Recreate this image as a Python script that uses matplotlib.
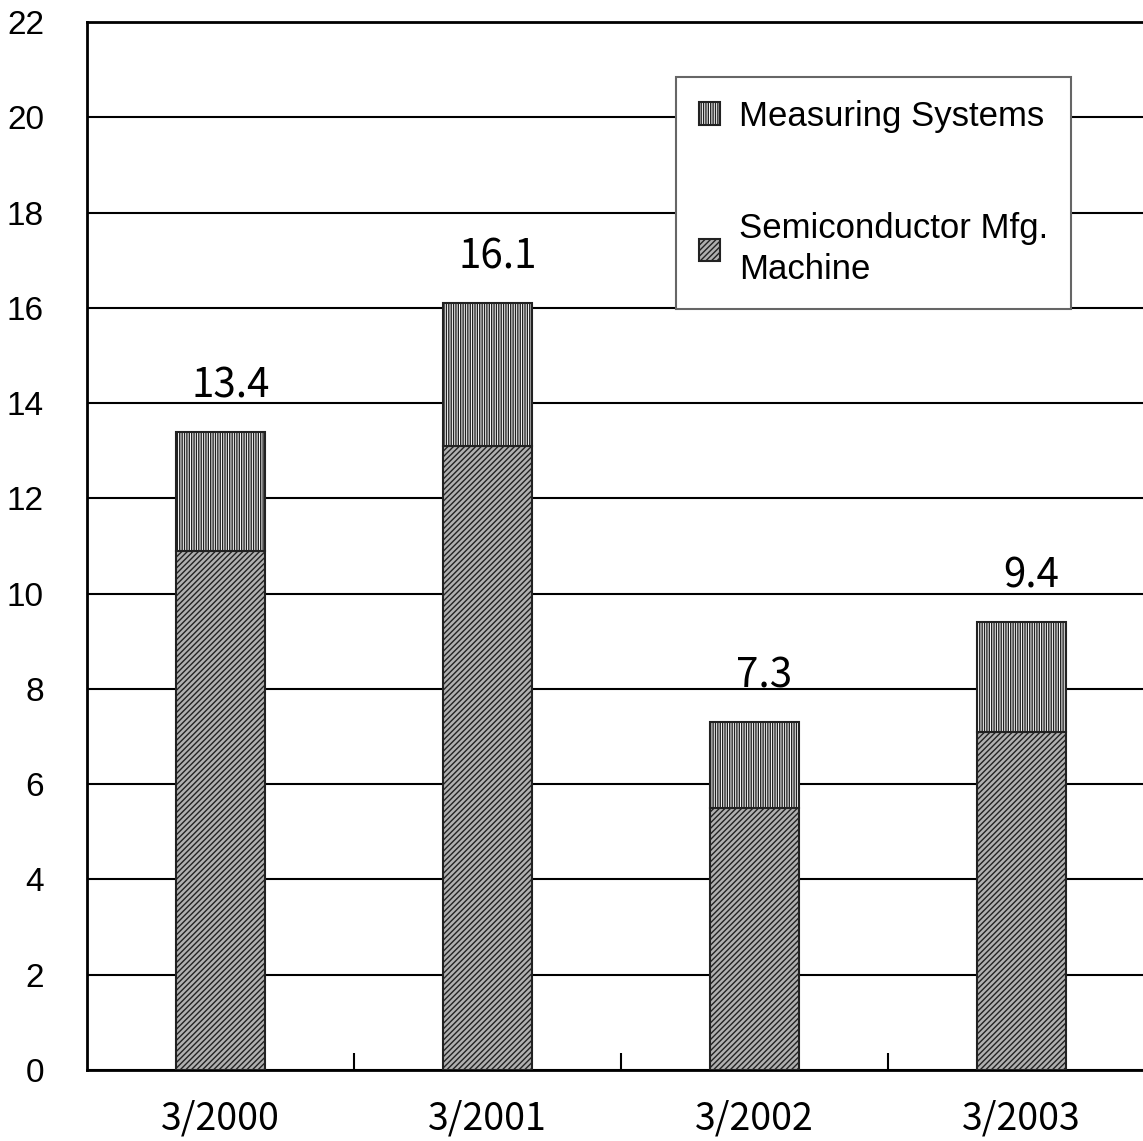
import matplotlib
matplotlib.use("Agg")
import matplotlib.pyplot as plt
import numpy as np

categories = ["3/2000", "3/2001", "3/2002", "3/2003"]
semiconductor = [10.9, 13.1, 5.5, 7.1]
measuring = [2.5, 3.0, 1.8, 2.3]
totals = [13.4, 16.1, 7.3, 9.4]
yticks = list(range(0, 23, 2))

plt.rcParams['hatch.linewidth'] = 1.0
fig = plt.figure(figsize=(11.43, 11.41), dpi=100)
ax = fig.add_axes([87/1143, 1-1070/1141, 1068/1143, 1048/1141])

x = np.arange(len(categories))
w = 0.333
b1 = ax.bar(x, semiconductor, w, color='#b0b0b0', edgecolor='#222222', hatch='//////',
            linewidth=1.5, label='Semiconductor Mfg.\nMachine', zorder=3)
b2 = ax.bar(x, measuring, w, bottom=semiconductor, color='white', edgecolor='#555555',
            hatch='|||||||', linewidth=1.5, label='Measuring Systems', zorder=3)
for rect in list(b1) + list(b2):
    rect.set_edgecolor('#222222')

cjk = ['Noto Sans CJK JP', 'DejaVu Sans']
for xi, t, s, m in zip(x, totals, semiconductor, measuring):
    ax.text(xi + 0.037, s + m + 0.72, f"{t}", ha='center', va='baseline', fontsize=29,
            family=cjk)

ax.set_xlim(-0.5, 3.5)
ax.set_ylim(0, 22)
ax.set_yticks(yticks)
ax.set_yticklabels([str(v) for v in yticks], fontsize=24, family='Liberation Sans')
ax.yaxis.grid(True, color='black', linewidth=1.5, zorder=0)
ax.set_axisbelow(True)
ax.tick_params(axis='y', length=0, pad=31)

ax.set_xticks([0.5, 1.5, 2.5])
ax.set_xticklabels([])
ax.set_xticks(x, minor=True)
ax.set_xticklabels(categories, minor=True, fontsize=27, family=cjk)
ax.tick_params(axis='x', which='major', direction='in', length=12, width=1.5, color='black')
ax.tick_params(axis='x', which='minor', length=0, pad=21)

for sp in ['left', 'bottom', 'top']:
    ax.spines[sp].set_linewidth(2)
ax.spines['right'].set_visible(False)

handles = [b2, b1]
leg = ax.legend(handles, ['Measuring Systems', 'Semiconductor Mfg.\nMachine'],
                loc='upper left', bbox_to_anchor=(0.5515, 0.9475),
                prop={'family': 'Liberation Sans', 'size': 25},
                handlelength=0.63, handleheight=0.63, handletextpad=0.54,
                labelspacing=2.3, borderpad=0.65, fancybox=False, framealpha=1,
                edgecolor='#666666', borderaxespad=0)
leg.get_texts()[1].set_linespacing(1.3)
leg.get_frame().set_linewidth(1.5)
leg.set_zorder(5)

fig.savefig("out.png", dpi=100)
